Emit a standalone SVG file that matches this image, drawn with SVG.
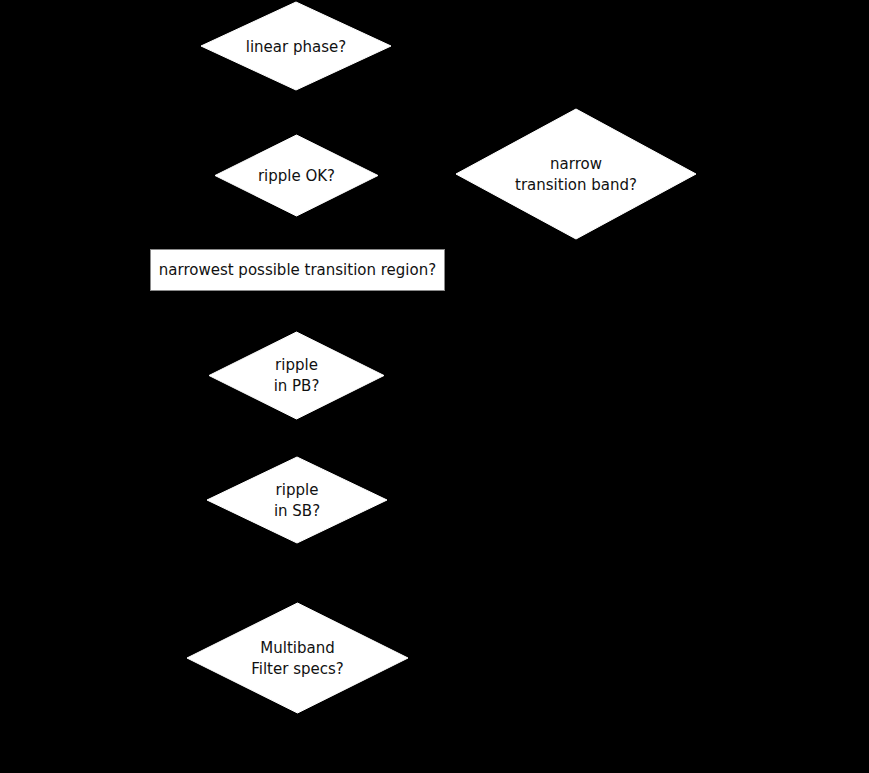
<svg xmlns="http://www.w3.org/2000/svg" width="869" height="773" viewBox="0 0 869 773">
<style>
.bg{fill:#000000}
.node{fill:#ffffff;stroke:#ffffff;stroke-width:1}
.box{fill:#ffffff;stroke:#8a8a8a;stroke-width:1}
.lbl{font-family:"DejaVu Sans","Liberation Sans",Arial,sans-serif;font-size:15px;fill:#111111;text-anchor:middle}
</style>
<rect class="bg" x="0" y="0" width="869" height="773"/>
<g id="connectors"></g>
<g id="linear-phase">
<polygon class="node" points="296,2 391,46 296,90 201,46"/>
<text class="lbl" x="296" y="52">linear phase?</text>
</g>
<g id="ripple-ok">
<polygon class="node" points="296.5,135 378,175.5 296.5,216 215,175.5"/>
<text class="lbl" x="296.5" y="181">ripple OK?</text>
</g>
<g id="narrow-band">
<polygon class="node" points="576,109 696,174 576,239 456,174"/>
<text class="lbl" x="576" y="169">narrow</text>
<text class="lbl" x="576" y="190">transition band?</text>
</g>
<g id="narrowest-region">
<rect class="box" x="150.5" y="249.5" width="294" height="41"/>
<text class="lbl" x="297.5" y="275">narrowest possible transition region?</text>
</g>
<g id="ripple-pb">
<polygon class="node" points="296.5,332 384,375.5 296.5,419 209,375.5"/>
<text class="lbl" x="296.5" y="370">ripple</text>
<text class="lbl" x="296.5" y="391">in PB?</text>
</g>
<g id="ripple-sb">
<polygon class="node" points="297,457 387,500 297,543 207,500"/>
<text class="lbl" x="297" y="495">ripple</text>
<text class="lbl" x="297" y="516">in SB?</text>
</g>
<g id="multiband">
<polygon class="node" points="297.5,603 408,658 297.5,713 187,658"/>
<text class="lbl" x="297.5" y="653">Multiband</text>
<text class="lbl" x="297.5" y="674">Filter specs?</text>
</g>
</svg>
